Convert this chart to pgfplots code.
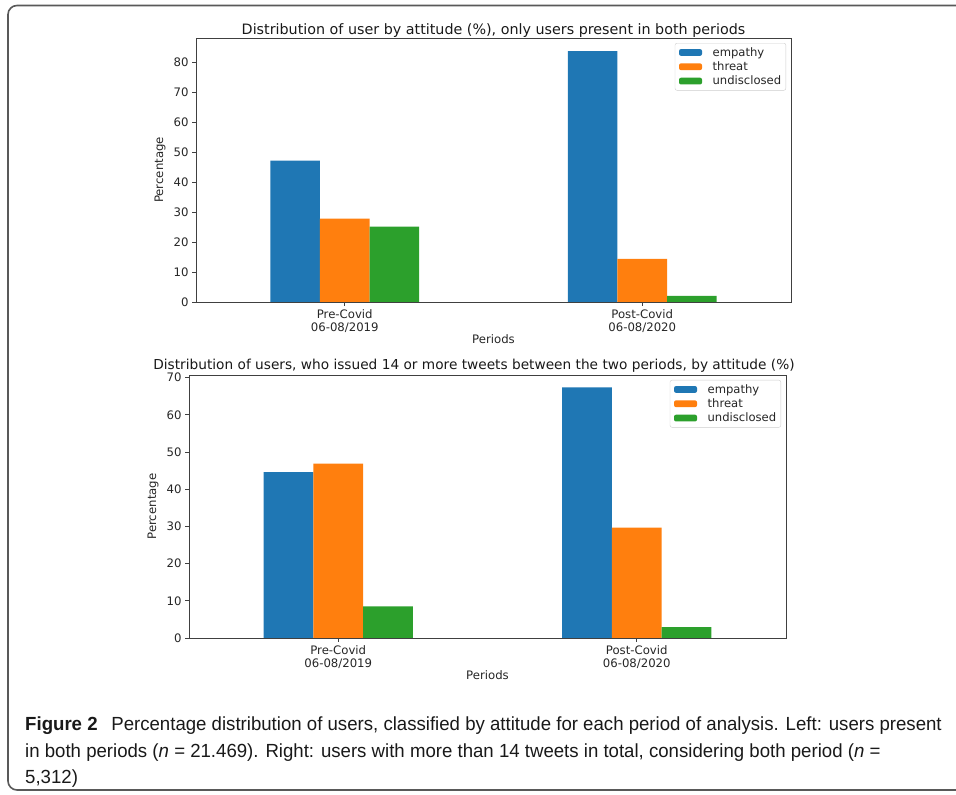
\documentclass[border=0pt]{standalone}
\usepackage{fontspec}
\setmainfont{DejaVu Sans}
\newfontfamily\capfont[FakeStretch=0.98]{Liberation Sans}
\usepackage{pgfplots}
\pgfplotsset{compat=1.18}
\definecolor{tabblue}{HTML}{1F77B4}
\definecolor{taborange}{HTML}{FF7F0E}
\definecolor{tabgreen}{HTML}{2CA02C}
\pgfplotsset{
  mpl/.style={
    scale only axis,
    ybar=0pt,
    bar width=0.16667,
    xmin=-0.5, xmax=1.5, ymin=0,
    xtick={0,1},
    xticklabels={{Pre-Covid\\06-08/2019},{Post-Covid\\06-08/2020}},
    xticklabel style={align=center, font=\fontsize{11.7}{13}\selectfont, text=black!85},
    yticklabel style={font=\fontsize{11.7}{13}\selectfont, text=black!85},
    /pgf/number format/assume math mode=true,
    tick pos=left,
    tick align=outside,
    major tick length=4pt,
    tick style={black!75, line width=0.8pt},
    axis line style={black!75, line width=0.9pt},
    xlabel={Periods}, ylabel={Percentage},
    label style={font=\fontsize{11.7}{13}\selectfont, text=black!85},
    title style={font=\fontsize{14.3}{16}\selectfont, text=black!90, anchor=base},
    legend style={at={(1,1)}, anchor=north east, xshift=-5pt, yshift=-5pt,
      draw=black!20, rounded corners=2pt, fill=white,
      font=\fontsize{11.6}{12}\selectfont, text=black!85,
      inner xsep=3pt, inner ysep=2.5pt, row sep=0.8pt,
      nodes={inner sep=1.6pt}},
    legend cell align=left,
    legend image code/.code={\path (-1pt,0) (32pt,0);\fill[##1] (0pt,-3.4pt) rectangle (23pt,3.4pt);},
    every axis plot/.append style={draw=none},
  }
}
\begin{document}
\begin{tikzpicture}[x=1pt,y=1pt]
\path[use as bounding box] (0,0) rectangle (956,795);
\begin{scope}
\clip (0,0) rectangle (956,795);
\draw[black!65, line width=1.6pt, rounded corners=9pt] (8,5) rectangle (975,789.5);
\end{scope}

% top chart
\begin{axis}[mpl,
  at={(196pt,493pt)}, anchor=south west,
  width=595pt, height=264pt,
  ymax=88, ytick={0,10,...,80},
  title={Distribution of user by attitude (\%), only users present in both periods},
  title style={at={(0.5,1)}, yshift=-2pt},
  xlabel style={at={(axis description cs:0.5,0)}, anchor=center, yshift=-37pt},
  ylabel style={at={(axis description cs:-0.0605,0.5)}, anchor=center},
]
\addplot[fill=tabblue, bar shift=-0.16667] coordinates {(0,47.1) (1,83.6)};
\addplot[fill=taborange, bar shift=0] coordinates {(0,27.8) (1,14.4)};
\addplot[fill=tabgreen, bar shift=0.16667] coordinates {(0,25.1) (1,2.0)};
\legend{empathy, threat, undisclosed}
\end{axis}

% bottom chart
\begin{axis}[mpl,
  at={(189pt,157pt)}, anchor=south west,
  width=597pt, height=263pt,
  ymax=70.7, ytick={0,10,...,70},
  title={Distribution of users, who issued 14 or more tweets between the two periods, by attitude (\%)},
  title style={at={(0.5,1)}, yshift=-1pt, xshift=-13.5pt, font=\fontsize{13.7}{16}\selectfont},
  xlabel style={at={(axis description cs:0.5,0)}, anchor=center, yshift=-37pt},
  ylabel style={at={(axis description cs:-0.0603,0.5)}, anchor=center},
]
\addplot[fill=tabblue, bar shift=-0.16667] coordinates {(0,44.6) (1,67.4)};
\addplot[fill=taborange, bar shift=0] coordinates {(0,46.9) (1,29.7)};
\addplot[fill=tabgreen, bar shift=0.16667] coordinates {(0,8.5) (1,2.9)};
\legend{empathy, threat, undisclosed}
\end{axis}

\node[anchor=base west, align=left, inner sep=0pt, text=black!90,
  font=\capfont\fontsize{19}{26.5}\selectfont] at (25,11)
  {\textbf{Figure 2}\hspace{0.45em} Percentage distribution of users, classified by attitude for each period of analysis. Left: users present\\
   in both periods (\textit{n} = 21.469). Right: users with more than 14 tweets in total, considering both period (\textit{n} =\\
   5,312)};
\end{tikzpicture}
\end{document}
